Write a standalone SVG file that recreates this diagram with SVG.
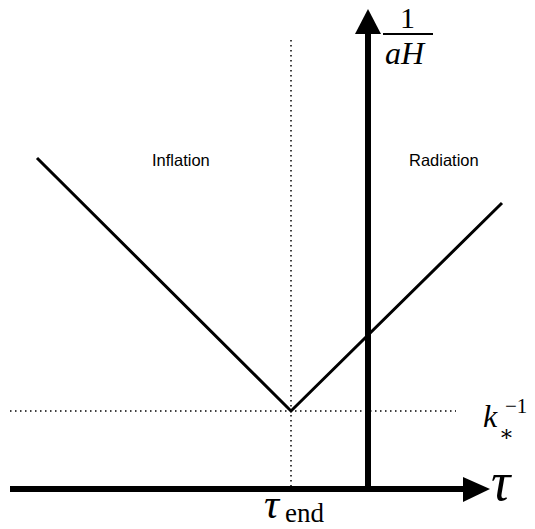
<svg xmlns="http://www.w3.org/2000/svg" width="535" height="529" viewBox="0 0 535 529">
<style>
.axis{stroke:#000;stroke-width:6;fill:none}
.curve{stroke:#000;stroke-width:3;fill:none}
.dot{stroke:#000;stroke-width:1.5;stroke-dasharray:1.5 3.5;fill:none}
.lbl{font-family:"Liberation Sans",Arial,sans-serif;font-size:16.5px;fill:#000}
.math{font-family:"Liberation Serif","DejaVu Serif",serif;fill:#000}
</style>
<rect width="535" height="529" fill="#fff"/>
<g id="connectors">
<line class="dot" x1="291" y1="40" x2="291" y2="489"/>
<line class="dot" x1="10" y1="411" x2="456" y2="411"/>
<polyline class="curve" points="37,158 291,411 502,203"/>
<line class="axis" x1="10" y1="489" x2="466" y2="489"/>
<polygon points="463,477 490,489 463,502" fill="#000"/>
<line class="axis" x1="368" y1="489" x2="368" y2="30"/>
<polygon points="355,34 368,9 381,34" fill="#000"/>
</g>
<g id="label-inflation"><text class="lbl" x="152" y="166">Inflation</text></g>
<g id="label-radiation"><text class="lbl" x="409" y="166">Radiation</text></g>
<g id="label-tau"><text class="math" x="491" y="500" font-size="54" font-style="italic">τ</text></g>
<g id="label-tauend"><text class="math" x="264" y="518" font-size="42" font-style="italic">τ</text><text class="math" x="285" y="522" font-size="27">end</text></g>
<g id="label-kstar"><text class="math" x="483" y="427" font-size="32" font-style="italic">k</text><text class="math" x="499" y="441" font-size="22">∗</text><text class="math" x="505" y="413" font-size="21">−1</text></g>
<g id="label-aH">
<text class="math" x="400" y="28" font-size="30">1</text>
<line x1="383" y1="34" x2="433" y2="34" stroke="#000" stroke-width="1.8"/>
<text class="math" x="385" y="64" font-size="32" font-style="italic">aH</text>
</g>
</svg>
